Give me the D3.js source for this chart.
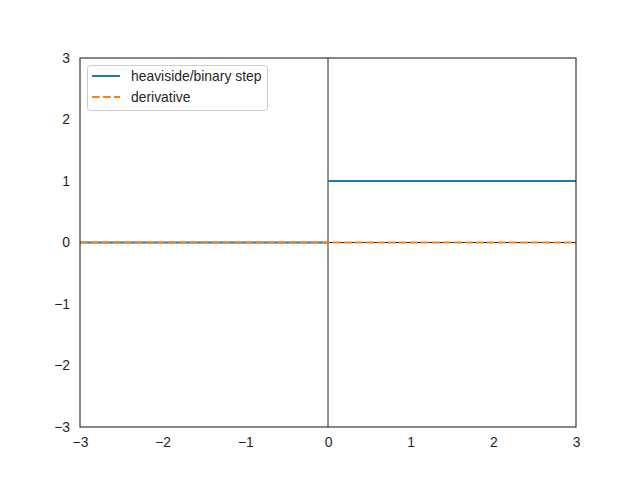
<!DOCTYPE html>
<html><head><meta charset="utf-8">
<script src="https://cdn.jsdelivr.net/npm/d3@7"></script>
<style>body{margin:0;background:#fff}svg{display:block}text{font-family:"Liberation Sans",Arial,sans-serif;fill:#262626}</style>
</head><body>
<script>
const xTicks = [-3, -2, -1, 0, 1, 2, 3];
const yTicks = [-3, -2, -1, 0, 1, 2, 3];
// heaviside drawn as two pieces (null = break)
const stepX = [-3, -2, -1, 0, null, 0, 1, 2, 3];
const stepY = [0, 0, 0, 0, null, 1, 1, 1, 1];
const derivX = [-3, -2, -1, 0, 1, 2, 3];
const derivY = [0, 0, 0, 0, 0, 0, 0];
const legendLabels = ["heaviside/binary step", "derivative"];
const colors = ["#1f77b4", "#ff7f0e"];

const W = 640, H = 480;
const m = {l: 80, r: 576, t: 58, b: 427};
const svg = d3.select("body").append("svg").attr("width", W).attr("height", H);
const x = d3.scaleLinear().domain([-3, 3]).range([m.l, m.r]);
const y = d3.scaleLinear().domain([-3, 3]).range([m.b, m.t]);

// axhline / axvline
svg.append("line").attr("x1", m.l).attr("x2", m.r).attr("y1", y(0)).attr("y2", y(0))
  .attr("stroke", "#262626").attr("stroke-width", 1);
svg.append("line").attr("x1", x(0)).attr("x2", x(0)).attr("y1", m.t).attr("y2", m.b)
  .attr("stroke", "#262626").attr("stroke-width", 1);

const line = d3.line().defined(d => d[0] !== null).x(d => x(d[0])).y(d => y(d[1]));
svg.append("path").datum(stepX.map((v, i) => [v, stepY[i]]))
  .attr("d", line).attr("fill", "none").attr("stroke", colors[0]).attr("stroke-width", 2);
svg.append("path").datum(derivX.map((v, i) => [v, derivY[i]]))
  .attr("d", line).attr("fill", "none").attr("stroke", colors[1]).attr("stroke-width", 2)
  .attr("stroke-dasharray", "7.7,3.3");

// frame
svg.append("rect").attr("x", m.l).attr("y", m.t).attr("width", m.r - m.l).attr("height", m.b - m.t)
  .attr("fill", "none").attr("stroke", "#262626").attr("stroke-width", 1.1);

const fmt = v => v < 0 ? "\u2212" + Math.abs(v) : String(v);
const xa = svg.append("g").attr("transform", `translate(0,${m.b})`)
  .call(d3.axisBottom(x).tickValues(xTicks).tickSize(0).tickPadding(10).tickFormat(fmt));
const ya = svg.append("g").attr("transform", `translate(${m.l},0)`)
  .call(d3.axisLeft(y).tickValues(yTicks).tickSize(0).tickPadding(10).tickFormat(fmt));
[xa, ya].forEach(a => {
  a.select(".domain").remove();
  a.selectAll("text").attr("font-size", "13.9px").attr("font-family", '"Liberation Sans",Arial,sans-serif').attr("fill", "#262626");
});

// legend
const lg = svg.append("g");
lg.append("rect").attr("x", 87.5).attr("y", 65.5).attr("width", 180).attr("height", 45).attr("rx", 3)
  .attr("fill", "#fff").attr("fill-opacity", 0.8).attr("stroke", "#cccccc").attr("stroke-width", 1);
legendLabels.forEach((lab, i) => {
  const yy = 76 + i * 21;
  lg.append("line").attr("x1", 92).attr("x2", 120).attr("y1", yy).attr("y2", yy)
    .attr("stroke", colors[i]).attr("stroke-width", 2)
    .attr("stroke-dasharray", i === 1 ? "7.7,3.3" : null);
  lg.append("text").attr("x", 131).attr("y", yy + 5).attr("font-size", "13.9px").text(lab);
});
</script>
</body></html>
